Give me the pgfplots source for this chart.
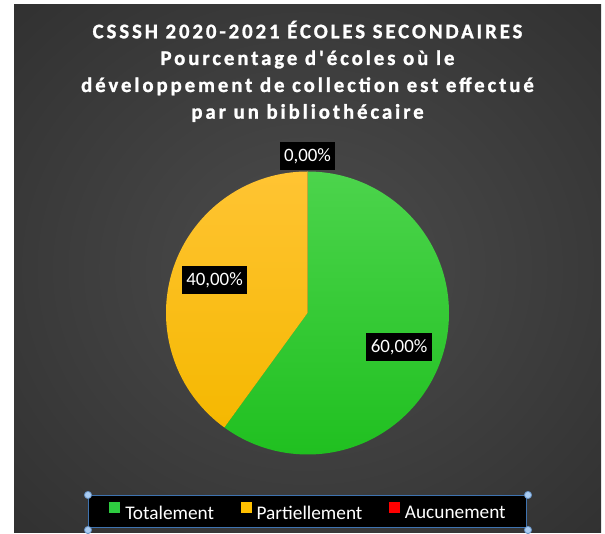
\documentclass[border=0pt]{standalone}
\usepackage{pgfplots}
\pgfplotsset{compat=1.18}
\usepackage{pgfplotstable}
\usepackage{fontspec}
\setmainfont{Carlito}
\newfontfamily\titlefont[LetterSpace=14, BoldFeatures={FakeBold=1.2}]{Carlito}
\definecolor{gtop}{HTML}{4CD44C}
\definecolor{gbot}{HTML}{20C020}
\definecolor{ytop}{HTML}{FFC433}
\definecolor{ybot}{HTML}{F5B800}
\definecolor{gleg}{HTML}{2ECC40}
\definecolor{yleg}{HTML}{FFC000}
\definecolor{rleg}{HTML}{FF0000}
\definecolor{bgin}{HTML}{4C4C4C}
\definecolor{bgout}{HTML}{262626}
\definecolor{selblue}{HTML}{3E73B0}
\definecolor{handle}{HTML}{A9CCF2}
\pgfdeclareradialshading{bgshade}{\pgfpoint{0bp}{0bp}}{color(0bp)=(bgin); color(50bp)=(bgout); color(72bp)=(bgout)}
\pgfplotstableread{
label value
Totalement 60
Partiellement 40
Aucunement 0
}\piedata
\pgfplotstablegetelem{0}{value}\of\piedata \let\vA\pgfplotsretval
\pgfplotstablegetelem{1}{value}\of\piedata \let\vB\pgfplotsretval
\pgfplotstablegetelem{2}{value}\of\piedata \let\vC\pgfplotsretval
\pgfmathsetmacro\aA{90-3.6*\vA}
\pgfmathsetmacro\aB{\aA-3.6*\vB}
\pgfmathsetmacro\cA{cos(\aA)}
\pgfmathsetmacro\sA{sin(\aA)}
\begin{document}
\begin{tikzpicture}
\fill[white] (0pt,0pt) rectangle (605pt,533pt);
\shade[shading=bgshade] (14pt,0pt) rectangle (601pt,528pt);
\begin{scope}[every node/.style={text=white, font=\titlefont\bfseries\fontsize{20.8}{24}\selectfont, anchor=base}]
\node at (307.5pt,494.7pt) {CSSSH 2020-2021 ÉCOLES SECONDAIRES};
\node at (307.5pt,468pt) {Pourcentage d'écoles où le};
\node at (307.5pt,441pt) {développement de collection est effectué};
\node at (307.5pt,414.3pt) {par un bibliothécaire};
\end{scope}
\begin{axis}[
  at={(166pt,78.5pt)}, anchor=south west,
  scale only axis, width=283pt, height=283pt,
  xmin=-1, xmax=1, ymin=-1, ymax=1,
  hide axis, clip=false,
  legend columns=3,
  legend style={at={(0.5,-0.2014)}, anchor=center,
    fill=black, draw=selblue, line width=1.2pt, text=white,
    font=\fontsize{19.3}{22}\selectfont,
    inner xsep=20.5pt, inner ysep=7pt,
    nodes={inner sep=0pt},
    column sep=5pt,
    /tikz/every even column/.append style={column sep=26.5pt}},
  legend image code/.code={\fill[#1, draw=none] (0pt,0pt) rectangle (11pt,11pt);},
]
\addlegendimage{fill=gleg}\addlegendentry{Totalement}
\addlegendimage{fill=yleg}\addlegendentry{Partiellement}
\addlegendimage{fill=rleg}\addlegendentry{Aucunement}
\shade[top color=gtop, bottom color=gbot] (axis cs:0,0) -- (axis cs:0,1) arc[start angle=90, end angle=\aA, radius=141.5pt] -- cycle;
\shade[top color=ytop, bottom color=ybot] (axis cs:0,0) -- (axis cs:\cA,\sA) arc[start angle=\aA, end angle=\aB, radius=141.5pt] -- cycle;
\begin{scope}[every node/.style={fill=black, text=white, font=\fontsize{18.9}{22}\selectfont, inner xsep=4.5pt, minimum height=28pt}]
\node at (axis cs:0,1.106) {0,00\%};
\node at (axis cs:-0.657,0.233) {40,00\%};
\node at (axis cs:0.647,-0.240) {60,00\%};
\end{scope}
\end{axis}
\foreach \p in {(88pt,38pt),(528pt,38pt),(88pt,3pt),(528pt,3pt)}
  \filldraw[fill=handle, draw=selblue!80, line width=0.8pt] \p circle (3.6pt);
\end{tikzpicture}
\end{document}
